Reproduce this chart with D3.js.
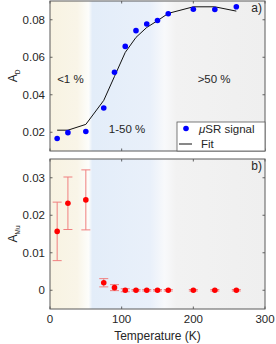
<!DOCTYPE html>
<html><head><meta charset="utf-8">
<script src="https://cdn.jsdelivr.net/npm/d3@7"></script>
<style>body{margin:0;background:#fff}svg{display:block;font-family:"Liberation Sans",Arial,sans-serif}</style>
</head><body><svg id="c" width="276" height="344"></svg>
<script>
const temps = [10,25,50,75,90,105,120,135,150,165,200,230,260];
const asyD = [0.0167,0.0198,0.0204,0.0329,0.0520,0.0658,0.0742,0.0777,0.0796,0.0832,0.0856,0.0855,0.0869];
const fitD = [0.0211,0.0211,0.0242,0.0370,0.0498,0.0626,0.0706,0.0759,0.0795,0.0834,0.0869,0.0869,0.0846];
const asyMu = [0.0157,0.0232,0.0241,0.0020,0.0007,0,0,0,0,0,0,0,0];
const errMu = [0.0078,0.0070,0.0080,0.0011,0.0008,0.0004,0.0002,0.0002,0.0002,0.0002,0.0002,0.0002,0.0002];
const xTicks = [0,100,200,300];
const yTicksD = [0.02,0.04,0.06,0.08];
const yTicksMu = [0,0.01,0.02,0.03];
const regionLabels = [{t:"<1 %",x:10,yD:0.0484},{t:"1-50 %",x:82,yD:0.022},{t:">50 %",x:206,yD:0.0484}];

const svg = d3.select("#c");
const L=50,R=265;
const x = d3.scaleLinear().domain([0,300]).range([L,R]);
const yD = d3.scaleLinear().domain([0.01,0.09]).range([151,1]);
const yM = d3.scaleLinear().domain([-0.005,0.035]).range([309,159]);
const ink="#262626";

const defs=svg.append("defs");
const g=defs.append("linearGradient").attr("id","bg").attr("gradientUnits","userSpaceOnUse")
  .attr("x1",x(0)).attr("x2",x(300)).attr("y1",0).attr("y2",0);
[[0,"#f8f3e2"],[38,"#f9f5e8"],[54,"#fdfdfb"],[59,"#e3edf9"],[140,"#e9f0fa"],[160,"#f8f9fb"],[176,"#f2f2f2"],[300,"#efefef"]]
 .forEach(([t,c])=>g.append("stop").attr("offset",t/300).attr("stop-color",c));

function panel(y, ticks, label, sub, tag){
  const [y0,y1]=y.range();
  svg.append("rect").attr("x",L).attr("y",y1).attr("width",R-L).attr("height",y0-y1).attr("fill","url(#bg)");
  const gp=svg.append("g");
  xTicks.forEach(t=>{
    gp.append("line").attr("x1",x(t)).attr("x2",x(t)).attr("y1",y0).attr("y2",y0-2.5).attr("stroke",ink).attr("stroke-width",0.7);
    gp.append("line").attr("x1",x(t)).attr("x2",x(t)).attr("y1",y1).attr("y2",y1+2.5).attr("stroke",ink).attr("stroke-width",0.7);
  });
  ticks.forEach(t=>{
    gp.append("line").attr("x1",L).attr("x2",L+2.5).attr("y1",y(t)).attr("y2",y(t)).attr("stroke",ink).attr("stroke-width",0.7);
    gp.append("line").attr("x1",R).attr("x2",R-2.5).attr("y1",y(t)).attr("y2",y(t)).attr("stroke",ink).attr("stroke-width",0.7);
    gp.append("text").attr("x",L-5).attr("y",y(t)).attr("dy","0.35em").attr("text-anchor","end")
      .attr("font-size",11.5).attr("fill",ink).text(t===0?"0":d3.format(".2f")(t));
  });
  svg.append("rect").attr("x",L).attr("y",y1).attr("width",R-L).attr("height",y0-y1)
    .attr("fill","none").attr("stroke","#5a5a5a").attr("stroke-width",1);
  const cy=(y0+y1)/2;
  const lt=svg.append("text").attr("transform",`translate(17,${cy}) rotate(-90)`).attr("text-anchor","middle")
    .attr("font-size",12).attr("fill",ink);
  lt.append("tspan").text(label);
  lt.append("tspan").attr("font-size",6.5).attr("dy",3).text(sub);
  svg.append("text").attr("x",262).attr("y",y1+11).attr("text-anchor","end").attr("font-size",12).attr("fill",ink).text(tag);
}
panel(yD,yTicksD,"A","D","a)");
panel(yM,yTicksMu,"A","Mu","b)");

regionLabels.forEach(r=>svg.append("text").attr("x",x(r.x)).attr("y",yD(r.yD)).attr("dy","0.35em")
  .attr("font-size",11.5).attr("fill",ink).text(r.t));

svg.append("path").datum(temps.map((t,i)=>[t,fitD[i]]))
  .attr("d",d3.line().x(d=>x(d[0])).y(d=>yD(d[1]))).attr("fill","none").attr("stroke","#111").attr("stroke-width",1);
svg.selectAll(".bd").data(temps).join("circle").attr("cx",d=>x(d)).attr("cy",(d,i)=>yD(asyD[i])).attr("r",2.8).attr("fill","#0000ff");

svg.append("rect").attr("x",177).attr("y",122).attr("width",88).attr("height",29).attr("fill","#fff").attr("stroke","#5a5a5a").attr("stroke-width",0.8);
svg.append("circle").attr("cx",186).attr("cy",128.5).attr("r",2.8).attr("fill","#0000ff");
svg.append("line").attr("x1",179).attr("x2",192).attr("y1",144).attr("y2",144).attr("stroke","#111").attr("stroke-width",1);
const lg=svg.append("text").attr("x",199).attr("y",128.5).attr("dy","0.35em").attr("font-size",11.5).attr("fill",ink);
lg.append("tspan").attr("font-style","italic").text("\u03bc");
lg.append("tspan").text("SR signal");
svg.append("text").attr("x",201).attr("y",144).attr("dy","0.35em").attr("font-size",11.5).attr("fill",ink).text("Fit");

const eb=svg.append("g").attr("stroke","#f07f7f").attr("stroke-width",1);
temps.forEach((t,i)=>{
  const lo=yM(asyMu[i]-errMu[i]), hi=yM(asyMu[i]+errMu[i]);
  eb.append("line").attr("x1",x(t)).attr("x2",x(t)).attr("y1",lo).attr("y2",hi);
  eb.append("line").attr("x1",x(t)-4.5).attr("x2",x(t)+4.5).attr("y1",lo).attr("y2",lo);
  eb.append("line").attr("x1",x(t)-4.5).attr("x2",x(t)+4.5).attr("y1",hi).attr("y2",hi);
});
svg.selectAll(".rd").data(temps).join("circle").attr("cx",d=>x(d)).attr("cy",(d,i)=>yM(asyMu[i])).attr("r",2.8).attr("fill","#ff0000");

xTicks.forEach(t=>svg.append("text").attr("x",x(t)).attr("y",319).attr("dy","0.35em").attr("text-anchor","middle")
  .attr("font-size",11.5).attr("fill",ink).text(t));
svg.append("text").attr("x",x(150)).attr("y",336).attr("dy","0.35em").attr("text-anchor","middle")
  .attr("font-size",12).attr("fill",ink).text("Temperature (K)");
</script></body></html>
